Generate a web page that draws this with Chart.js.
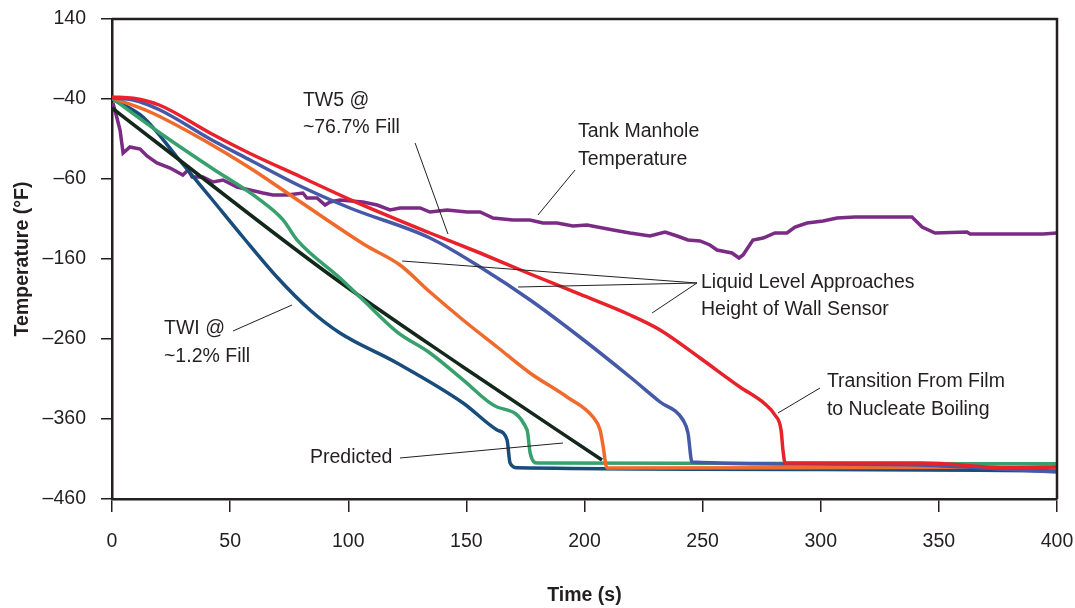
<!DOCTYPE html>
<html>
<head>
<meta charset="utf-8">
<script src="https://cdn.jsdelivr.net/npm/chart.js@4"></script>
<style>
  html, body { margin: 0; padding: 0; background: #fff; }
</style>
</head>
<body>
<canvas id="myChart" width="1075" height="608"></canvas>
<script>
// axis ticks
const xTicks = [0, 50, 100, 150, 200, 250, 300, 350, 400]
const yTickLabels = ['–460', '–360', '–260', '–160', '–60', '–40', '140']

// TW5 @ ~76.7% fill (red)
const redTime = [0, 9, 20, 41.5, 58, 80, 101, 134.6, 155.8, 177, 198, 219.3, 232, 248.9, 265.8, 276.4, 280.6, 283.2, 284, 284.9, 343, 380, 400]
const redTemp = [42.5, 41, 32.5, -2.5, -27.5, -57.5, -86, -127.5, -152.5, -178.75, -204, -230, -248.75, -283.75, -320, -341.25, -355, -373.75, -398.75, -415, -415, -421, -420]

// blue sensor
const blueTime = [0, 8.9, 20.3, 41.5, 58.4, 79.6, 100.7, 134.6, 155.8, 177, 198, 219.3, 232, 241.7, 243.8, 245.5, 291.2, 342, 375.9, 400]
const blueTemp = [41.25, 38.75, 26.25, -10, -36.25, -68.75, -96.25, -133.75, -170, -211.25, -257.5, -307.5, -338.75, -361.25, -377.5, -413.75, -416.25, -417.5, -422.5, -426.25]

// orange sensor
const orangeTime = [0, 16.1, 37.2, 58.4, 71.1, 92.3, 107.1, 121.9, 134.6, 148.6, 163, 176.9, 192.6, 203.6, 206.6, 207.8, 209.5, 291, 400]
const orangeTemp = [41.25, 23.75, -8.75, -46.25, -71.25, -113.75, -142.5, -167.5, -201.25, -236.25, -270, -302.5, -332.5, -357.5, -373.75, -392.5, -421.25, -421, -420]

// green sensor
const greenTime = [0, 20.3, 41.5, 62.6, 72.4, 78.3, 96.5, 106.2, 120.6, 134.6, 148.6, 163, 175.7, 177, 180, 300, 400]
const greenTemp = [41, -2.5, -45, -86, -111, -136, -183.75, -211, -251, -277.5, -311, -345, -373.75, -402.5, -415, -415.5, -416]

// TWI @ ~1.2% fill (dark blue)
const navyTime = [0, 13.1, 27.5, 41.5, 55.4, 69.8, 83.8, 96.5, 120.6, 148.6, 163, 167.2, 168.5, 171.4, 300, 400]
const navyTemp = [40, 17.5, -32.5, -82.5, -132.5, -182.5, -223.75, -252.5, -290, -340, -373.75, -386, -415, -421, -423, -425]

// predicted
const predTime = [0, 20.3, 92.3, 148.6, 207.4]
const predTemp = [28.75, -17.5, -180, -295, -411.25]

// tank manhole temperature (purple)
const manholeTime = [0.4, 2.1, 3.4, 4.7, 7.6, 11.9, 14.8, 19, 24.6, 30, 32.2, 33.9, 38.5, 42.8, 47, 52.9, 58.4, 63.9, 68.1, 74.1, 80.8, 82.5, 86.8, 90.2, 92.3, 96.5, 106.2, 112.2, 117.7, 121.9, 130.4, 134.6, 141.8, 150.3, 155.8, 161.3, 169.7, 176.9, 182.4, 188.4, 195.1, 201.1, 212.1, 219.3, 227.7, 234.1, 239.2, 243.8, 248.9, 253.1, 256.1, 262.4, 265.4, 267.1, 271.3, 275.6, 280.6, 285.7, 289.1, 294.2, 301, 306.9, 314.5, 323.8, 338.6, 342.9, 348.4, 361.9, 363.2, 394.1, 400]
const manholeTemp = [35, 16.25, 1.25, -27.5, -20, -22.5, -31.25, -40, -46.25, -55, -48.75, -57.5, -57.5, -63.75, -61.25, -70, -73.75, -77.5, -80, -80, -77.5, -83.75, -83.75, -92.5, -88.75, -86.25, -88.75, -92.5, -98.75, -96.25, -96.25, -101.25, -98.75, -101.25, -101.25, -108.75, -111.25, -111.25, -115, -115, -118.75, -117.5, -123.75, -127.5, -131.25, -126.25, -131.25, -136.25, -137.5, -142.5, -148.75, -152.5, -158.75, -155, -136.25, -133.75, -127.5, -127.5, -120, -115, -112.5, -108.75, -107.5, -107.5, -107.5, -120, -127.5, -126.25, -128.75, -128.75, -127.5]

// annotation text, anchored at (time, temperature), left aligned
const noteText = ['TW5 @', '~76.7% Fill', 'Tank Manhole', 'Temperature', 'Liquid Level Approaches', 'Height of Wall Sensor',
  'TWI @', '~1.2% Fill', 'Transition From Film', 'to Nucleate Boiling', 'Predicted']
const noteTime = [80.8, 80.8, 197.2, 197.2, 249.3, 249.3, 22, 22, 302.6, 302.6, 83.8]
const noteTemp = [37.5, 3.75, -1.25, -36.25, -190, -223.75, -247.5, -282.5, -313.75, -348.75, -408.75]

// leader lines [t1, T1, t2, T2]
const leaders = [
  [128.3, -15, 142.2, -128.75],
  [196, -48.75, 180.3, -105],
  [247.6, -190, 122.8, -162.5],
  [247.6, -190, 171.9, -195],
  [247.6, -190, 228.6, -227.5],
  [76.2, -217.5, 51.2, -250],
  [299.7, -321.25, 281.9, -352.5],
  [190.9, -390, 121.9, -408.75]
]

const ink = '#231f20'
Chart.defaults.font.family = "'Liberation Sans', Arial, sans-serif"
Chart.defaults.color = ink

function pts(ts, vs) {
  return ts.map((t, i) => ({ x: t, y: vs[i] }))
}

function series(ts, vs, color, smooth) {
  return {
    data: pts(ts, vs),
    borderColor: color,
    borderWidth: 3.5,
    pointRadius: 0,
    showLine: true,
    fill: false,
    tension: 0,
    cubicInterpolationMode: smooth ? 'monotone' : 'default'
  }
}

const notesPlugin = {
  id: 'notes',
  afterDatasetsDraw(chart) {
    const { ctx, chartArea, scales } = chart
    const x = scales.x, y = scales.y
    ctx.save()
    // top and right frame
    ctx.strokeStyle = ink
    ctx.lineWidth = 2.5
    ctx.beginPath()
    ctx.moveTo(chartArea.left, chartArea.top)
    ctx.lineTo(chartArea.right, chartArea.top)
    ctx.lineTo(chartArea.right, chartArea.bottom)
    ctx.stroke()
    // leader lines
    ctx.lineWidth = 1
    leaders.forEach(l => {
      ctx.beginPath()
      ctx.moveTo(x.getPixelForValue(l[0]), y.getPixelForValue(l[1]))
      ctx.lineTo(x.getPixelForValue(l[2]), y.getPixelForValue(l[3]))
      ctx.stroke()
    })
    ctx.fillStyle = ink
    ctx.font = "19.5px 'Liberation Sans', Arial, sans-serif"
    ctx.textAlign = 'left'
    ctx.textBaseline = 'middle'
    noteText.forEach((s, i) => {
      ctx.fillText(s, x.getPixelForValue(noteTime[i]), y.getPixelForValue(noteTemp[i]))
    })
    ctx.restore()
  }
}

const ctx = document.getElementById('myChart')
const myChart = new Chart(ctx, {
  type: 'scatter',
  data: {
    datasets: [
      series(redTime, redTemp, '#e8212b', true),
      series(blueTime, blueTemp, '#4659a8', true),
      series(orangeTime, orangeTemp, '#f06a2b', true),
      series(greenTime, greenTemp, '#38a06d', true),
      series(predTime, predTemp, '#13281a', true),
      series(navyTime, navyTemp, '#174c7c', true),
      series(manholeTime, manholeTemp, '#7a2c85', false)
    ]
  },
  plugins: [notesPlugin],
  options: {
    responsive: false,
    animation: false,
    layout: { padding: { top: 19, right: 18, bottom: 0, left: 0 } },
    plugins: {
      legend: { display: false },
      tooltip: { enabled: false }
    },
    scales: {
      x: {
        type: 'linear',
        min: 0,
        max: 400,
        afterFit: s => { s.height = 109; s.paddingLeft = 0; s.paddingRight = 0 },
        afterBuildTicks: s => { s.ticks = xTicks.map(v => ({ value: v })) },
        ticks: { font: { size: 19.5 }, color: ink, padding: 18, maxRotation: 0 },
        grid: { drawOnChartArea: false, drawTicks: true, tickLength: 13, color: ink, lineWidth: 1.5 },
        border: { color: ink, width: 2.5 },
        title: { display: true, text: 'Time (s)', font: { size: 19.5, weight: 'bold' }, color: ink, padding: { top: 4, bottom: 1 } }
      },
      y: {
        type: 'linear',
        min: -460,
        max: 140,
        afterFit: s => { s.width = 112; s.paddingTop = 0; s.paddingBottom = 0 },
        ticks: { stepSize: 100, font: { size: 19.5 }, color: ink, padding: 15, callback: (v, i) => yTickLabels[i] },
        grid: { drawOnChartArea: false, drawTicks: true, tickLength: 11, color: ink, lineWidth: 1.5 },
        border: { color: ink, width: 2.5 },
        title: { display: true, text: 'Temperature (°F)', font: { size: 19.5, weight: 'bold' }, color: ink, padding: { top: 11, bottom: 4 } }
      }
    }
  }
})
</script>
</body>
</html>
